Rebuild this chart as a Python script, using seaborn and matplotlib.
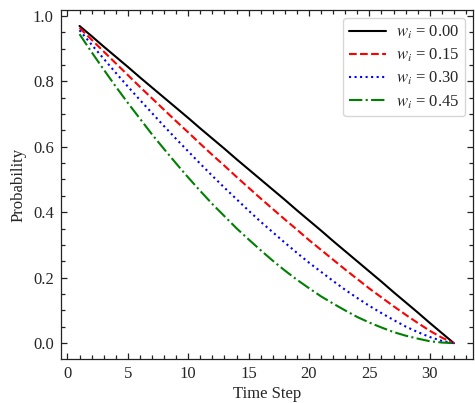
import matplotlib
matplotlib.use("Agg")
import matplotlib.pyplot as plt
import seaborn as sns
import pandas as pd
from matplotlib.ticker import MultipleLocator

time_steps = list(range(1, 33))
weights = ["0.00", "0.15", "0.30", "0.45"]

p_w000 = [0.969, 0.938, 0.906, 0.875, 0.844, 0.812, 0.781, 0.750, 0.719, 0.688,
          0.656, 0.625, 0.594, 0.562, 0.531, 0.500, 0.469, 0.438, 0.406, 0.375,
          0.344, 0.312, 0.281, 0.250, 0.219, 0.188, 0.156, 0.125, 0.094, 0.062,
          0.031, 0.000]
p_w015 = [0.963, 0.927, 0.891, 0.855, 0.819, 0.783, 0.748, 0.713, 0.678, 0.644,
          0.609, 0.575, 0.542, 0.508, 0.475, 0.442, 0.410, 0.378, 0.347, 0.315,
          0.285, 0.255, 0.225, 0.196, 0.167, 0.140, 0.113, 0.087, 0.062, 0.038,
          0.017, 0.000]
p_w030 = [0.956, 0.912, 0.869, 0.826, 0.784, 0.743, 0.703, 0.663, 0.624, 0.586,
          0.548, 0.511, 0.475, 0.440, 0.405, 0.371, 0.339, 0.307, 0.276, 0.246,
          0.218, 0.190, 0.163, 0.138, 0.114, 0.092, 0.071, 0.051, 0.034, 0.019,
          0.007, 0.000]
p_w045 = [0.944, 0.889, 0.836, 0.784, 0.734, 0.686, 0.638, 0.593, 0.549, 0.506,
          0.465, 0.425, 0.388, 0.351, 0.317, 0.284, 0.252, 0.222, 0.194, 0.168,
          0.143, 0.121, 0.100, 0.080, 0.063, 0.048, 0.034, 0.023, 0.014, 0.006,
          0.002, 0.000]

series = [p_w000, p_w015, p_w030, p_w045]
colors = ["#000000", "#ff0000", "#0000ff", "#008000"]
styles = ["-", "--", ":", "-."]

sns.set_theme(style="ticks")
plt.rcParams.update({
    "font.family": ["Liberation Serif", "DejaVu Serif"],
    "mathtext.fontset": "stix",
    "font.size": 12,
    "axes.linewidth": 0.9,
    "axes.edgecolor": "#222222",
    "xtick.minor.visible": True,
    "ytick.minor.visible": True,
    "xtick.minor.size": 3,
    "ytick.minor.size": 3,
    "xtick.minor.width": 0.9,
    "ytick.minor.width": 0.9,
    "xtick.minor.top": True,
    "xtick.minor.bottom": True,
    "ytick.minor.left": True,
    "ytick.minor.right": True,
})

fig = plt.figure(figsize=(4.75, 4.03), dpi=100)
ax = fig.add_axes([0.128, 0.109, 0.867, 0.866])

for w, vals, c, ls in zip(weights, series, colors, styles):
    df = pd.DataFrame({"Time Step": time_steps, "Probability": vals})
    sns.lineplot(data=df, x="Time Step", y="Probability", ax=ax, color=c,
                 linestyle=ls, linewidth=1.5, label=f"$w_i$ = {w}")

ax.set_xlim(-0.55, 33.55)
ax.set_ylim(-0.0485, 1.0175)
ax.xaxis.set_major_locator(MultipleLocator(5))
ax.yaxis.set_major_locator(MultipleLocator(0.2))
ax.xaxis.set_minor_locator(MultipleLocator(1))
ax.yaxis.set_minor_locator(MultipleLocator(0.05))
ax.tick_params(axis="both", which="major", top=True, right=True, direction="in",
               length=4.5, width=0.9, color="#222222", labelsize=12, pad=5)
ax.tick_params(axis="both", which="minor", top=True, right=True, bottom=True,
               left=True, direction="in", length=3, width=0.9, color="#222222")
ax.set_xlabel("Time Step", fontsize=12, labelpad=3)
ax.set_ylabel("Probability", fontsize=12, labelpad=5)
ax.legend(loc="upper right", fontsize=12, handlelength=2.2, handletextpad=0.6,
          labelspacing=0.35, borderpad=0.35, borderaxespad=0.45,
          frameon=True, framealpha=0.8, edgecolor="#cccccc", fancybox=True)

fig.savefig("out.png", dpi=100)
